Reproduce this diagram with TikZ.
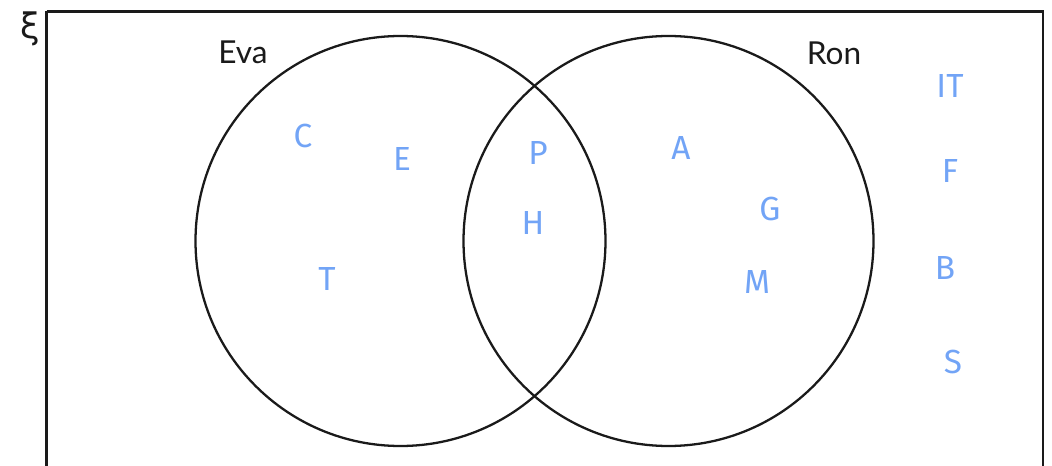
\documentclass[tikz,border=0pt]{standalone}
\usepackage{fontspec}
\setmainfont{Lato}
\newfontfamily\handfont{Fira Sans}
\newfontfamily\symfont{DejaVu Sans}
\usetikzlibrary{positioning}

\begin{document}
\begin{tikzpicture}[x=0.02cm, y=-0.02cm,
  set/.style={draw=ink, line width=1.3pt},
  setname/.style={font=\fontsize{18}{21}\selectfont, text=ink},
  item/.style={font=\handfont\fontsize{19}{22}\selectfont, text=hand}]
  \definecolor{ink}{HTML}{1A1A1A}
  \definecolor{hand}{HTML}{72A4F6}
  \useasboundingbox (0,0) rectangle (1052,466);

  % universal set
  \draw[set] (46.5,11.5) -- (1043,11.5) -- (1043,480);
  \draw[set] (46.5,480) -- (46.5,11.5);
  \node[font=\symfont\fontsize{20}{22}\selectfont, text=ink] (xi) at (30,29) {ξ};

  % the two sets
  \coordinate (eva) at (400.5,241);
  \coordinate (ron) at (668.5,241);
  \draw[set] (eva) circle (205);
  \draw[set] (ron) circle (205);
  \node[setname] (evaname) at (243,52) {Eva};
  \node[setname] (ronname) at (834,53) {Ron};

  % Eva only
  \node[item] (c) at (303,136) {C};
  \node[item] (e) at (402,159) {E};
  \node[item] (t) at (327,279) {T};
  % both
  \node[item] (p) at (538,153) {P};
  \node[item] (h) at (533,223) {H};
  % Ron only
  \node[item] (a) at (681,148) {A};
  \node[item] (g) at (770,209) {G};
  \node[item] (m) at (757,282) {M};
  % neither
  \node[item] (it) at (950,86) {IT};
  \node[item] (f) at (950,171) {F};
  \node[item] (b) at (945,268) {B};
  \node[item] (s) at (953,362) {S};
\end{tikzpicture}
\end{document}
